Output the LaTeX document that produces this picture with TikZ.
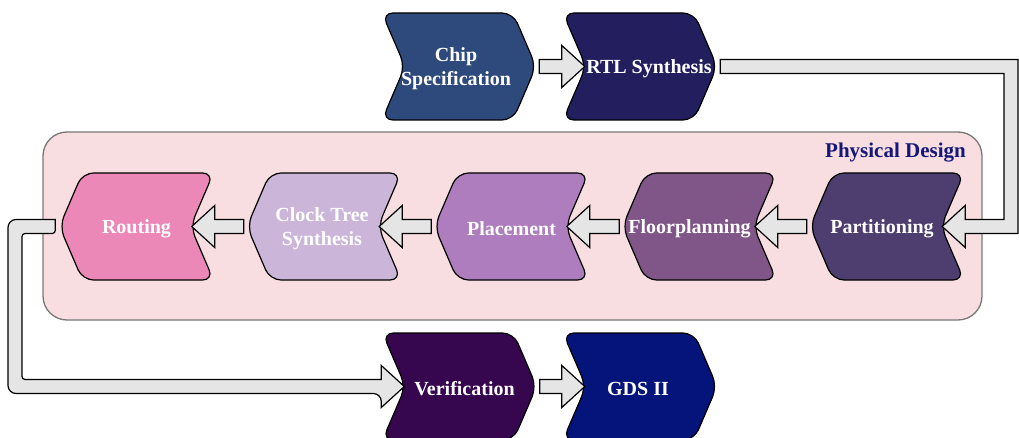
\documentclass[tikz,border=0pt]{standalone}
\usepackage{fontspec}
\setmainfont{Liberation Serif}
\usetikzlibrary{calc}

\definecolor{cChip}{RGB}{46,74,125}
\definecolor{cRtl}{RGB}{35,31,95}
\definecolor{cPart}{RGB}{78,61,111}
\definecolor{cFloor}{RGB}{127,86,135}
\definecolor{cPlace}{RGB}{173,125,190}
\definecolor{cCts}{RGB}{203,181,217}
\definecolor{cRout}{RGB}{235,136,183}
\definecolor{cVer}{RGB}{54,6,79}
\definecolor{cGds}{RGB}{4,20,122}
\definecolor{cPanel}{RGB}{248,221,225}
\definecolor{cPanelLine}{RGB}{120,120,120}
\definecolor{cTitle}{RGB}{20,24,120}
\definecolor{cArrow}{RGB}{229,229,229}

\tikzset{
  stage/.style={minimum width=154pt, minimum height=107pt, inner sep=0pt},
  stagetext/.style={text=white, align=center, inner sep=0pt,
    font=\bfseries\fontsize{20}{24}\selectfont},
  chev/.style={draw=black, line width=1.2pt, rounded corners=11pt, line join=round},
  blockarrow/.style={draw=black, fill=cArrow, line width=1.2pt, line join=miter},
  panel/.style={draw=cPanelLine, fill=cPanel, line width=1.3pt, rounded corners=24pt},
  paneltitle/.style={text=cTitle, inner sep=0pt, font=\bfseries\fontsize{21}{24}\selectfont},
}

% chevron pointing right: name, cx, cy, fill, text, text x offset
\newcommand\stageR[6]{%
  \draw[chev, fill=#4] ({#2-77},{#3-53.5}) -- ({#2+54},{#3-53.5}) -- ({#2+77},#3)
    -- ({#2+54},{#3+53.5}) -- ({#2-77},{#3+53.5}) -- ({#2-54},#3) -- cycle;
  \node[stage, label={[stagetext, xshift=#6pt, yshift=-2.5pt]center:{#5}}] (#1) at (#2,#3) {};}
% chevron pointing left: name, cx, cy, fill, text, text x offset
\newcommand\stageL[6]{%
  \draw[chev, fill=#4] ({#2+77},{#3-53.5}) -- ({#2-54},{#3-53.5}) -- ({#2-77},#3)
    -- ({#2-54},{#3+53.5}) -- ({#2+77},{#3+53.5}) -- ({#2+54},#3) -- cycle;
  \node[stage, label={[stagetext, xshift=#6pt, yshift=-2.5pt]center:{#5}}] (#1) at (#2,#3) {};}
% straight block arrow: signed head length, tail point, tip point
\newcommand\hblock[3]{%
  \draw[blockarrow] let \p1=(#2), \p2=(#3) in
    (\x1,{\y2+7pt}) -- ({\x2-(#1pt)},{\y2+7pt}) -- ({\x2-(#1pt)},{\y2+21pt})
    -- (\x2,\y2) -- ({\x2-(#1pt)},{\y2-21pt}) -- ({\x2-(#1pt)},{\y2-7pt})
    -- (\x1,{\y2-7pt}) -- cycle;}

\begin{document}
\begin{tikzpicture}[x=1pt, y=-1pt]
\useasboundingbox (0,0) rectangle (1019,438);

% physical design panel
\draw[panel] (43,132) rectangle (982,320);
\node[paneltitle, anchor=east] (pd) at (966,153) {Physical Design};

% stages
\stageR{chip}{459}{66.5}{cChip}{Chip\\Specification}{-3}
\stageR{rtl}{640}{66.5}{cRtl}{RTL Synthesis}{9}
\stageL{part}{887}{226.5}{cPart}{Partitioning}{-5}
\stageL{floor}{699.5}{226.5}{cFloor}{Floorplanning}{-10}
\stageL{place}{511.5}{226.5}{cPlace}{Placement}{0}
\stageL{cts}{324}{226.5}{cCts}{Clock Tree\\Synthesis}{-2}
\stageL{rout}{136.5}{226.5}{cRout}{Routing}{0}
\stageR{ver}{459.5}{386.5}{cVer}{Verification}{5}
\stageR{gds}{640}{386.5}{cGds}{GDS II}{-2}

% bend columns of the two return connectors
\coordinate (rbend) at (1011,0);
\coordinate (lbend) at (15,0);

% straight connectors
\hblock{23}{$(chip.east)+(3,0)$}{$(rtl.west)+(22,0)$}
\hblock{-23}{$(part.west)+(-3,0)$}{$(floor.east)+(-22,0)$}
\hblock{-23}{$(floor.west)+(-3,0)$}{$(place.east)+(-22,0)$}
\hblock{-23}{$(place.west)+(-3,0)$}{$(cts.east)+(-22,0)$}
\hblock{-23}{$(cts.west)+(-3,0)$}{$(rout.east)+(-22,0)$}
\hblock{23}{$(ver.east)+(3,0)$}{$(gds.west)+(22,0)$}

% RTL Synthesis down to Partitioning
\draw[blockarrow] let \p1=($(rtl.east)+(3,0)$), \p2=($(part.east)+(-22,0)$), \p3=(rbend) in
  (\x1,{\y1+7pt}) -- ({\x3+7pt},{\y1+7pt}) -- ({\x3+7pt},{\y2-7pt})
  -- ({\x2+23pt},{\y2-7pt}) -- ({\x2+23pt},{\y2-21pt}) -- (\x2,\y2)
  -- ({\x2+23pt},{\y2+21pt}) -- ({\x2+23pt},{\y2+7pt}) -- ({\x3-7pt},{\y2+7pt})
  -- ({\x3-7pt},{\y1-7pt}) -- (\x1,{\y1-7pt}) -- cycle;

% Routing down to Verification
\draw[blockarrow] let \p1=($(rout.west)+(-4,0)$), \p2=($(ver.west)+(22,0)$), \p3=(lbend) in
  (\x1,{\y1+7pt}) [rounded corners=8pt] -- ({\x3-7pt},{\y1+7pt}) -- ({\x3-7pt},{\y2-7pt})
  -- ({\x2-23pt},{\y2-7pt}) [sharp corners] -- ({\x2-23pt},{\y2-21pt}) -- (\x2,\y2)
  -- ({\x2-23pt},{\y2+21pt}) -- ({\x2-23pt},{\y2+7pt}) [rounded corners=3pt]
  -- ({\x3+7pt},{\y2+7pt}) -- ({\x3+7pt},{\y1-7pt}) -- (\x1,{\y1-7pt}) [sharp corners] -- cycle;
\end{tikzpicture}
\end{document}
